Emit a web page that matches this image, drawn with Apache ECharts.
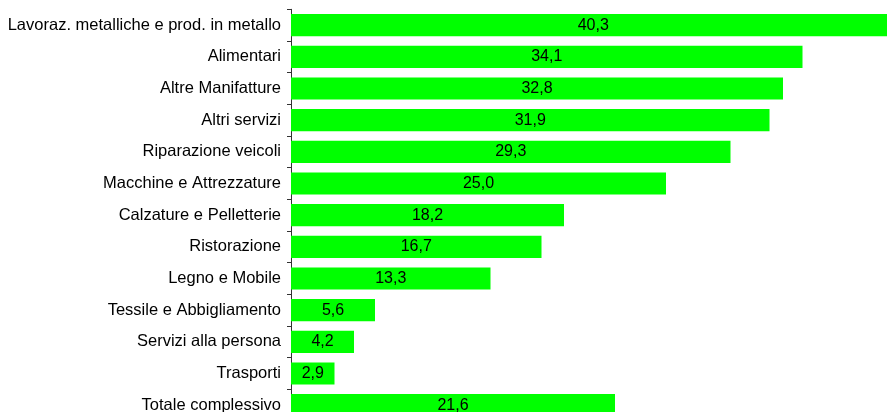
<!DOCTYPE html>
<html>
<head>
<meta charset="utf-8">
<script src="https://cdn.jsdelivr.net/npm/echarts@6/dist/echarts.min.js"></script>
<style>
  html, body { margin: 0; padding: 0; background: #fff; }
  #chart { width: 887px; height: 412px; }
</style>
</head>
<body>
<div id="chart"></div>
<script>
// Settori, dall'alto verso il basso
const categories = [
  'Lavoraz. metalliche e prod. in metallo',
  'Alimentari',
  'Altre Manifatture',
  'Altri servizi',
  'Riparazione veicoli',
  'Macchine e Attrezzature',
  'Calzature e Pelletterie',
  'Ristorazione',
  'Legno e Mobile',
  'Tessile e Abbigliamento',
  'Servizi alla persona',
  'Trasporti',
  'Totale complessivo'
];
// Valori percentuali per settore
const values = [40.3, 34.1, 32.8, 31.9, 29.3, 25.0, 18.2, 16.7, 13.3, 5.6, 4.2, 2.9, 21.6];

const chart = echarts.init(document.getElementById('chart'));
const fmt = v => v.toFixed(1).replace('.', ',');
const FONT = 'Liberation Sans, Arial, sans-serif';

chart.setOption({
  animation: false,
  backgroundColor: '#ffffff',
  grid: {
    left: 291, top: 9.3, width: 615, height: 411.7,
    containLabel: false,
    outerBoundsMode: 'none'
  },
  xAxis: {
    type: 'value',
    min: 0,
    max: 41,
    show: false
  },
  yAxis: {
    type: 'category',
    data: categories,
    inverse: true,
    axisLine: { show: true, lineStyle: { color: '#333', width: 1 } },
    axisTick: { show: true, length: 4, lineStyle: { color: '#333' } },
    axisLabel: {
      margin: 10,
      color: '#000',
      fontFamily: FONT,
      fontSize: 16.5
    },
    splitLine: { show: false }
  },
  series: [{
    type: 'bar',
    data: values,
    barCategoryGap: '30%',
    itemStyle: { color: '#00ff00' },
    label: {
      show: true,
      position: 'inside',
      color: '#000',
      fontFamily: FONT,
      fontSize: 16,
      formatter: p => fmt(p.value)
    }
  }]
});
</script>
</body>
</html>
